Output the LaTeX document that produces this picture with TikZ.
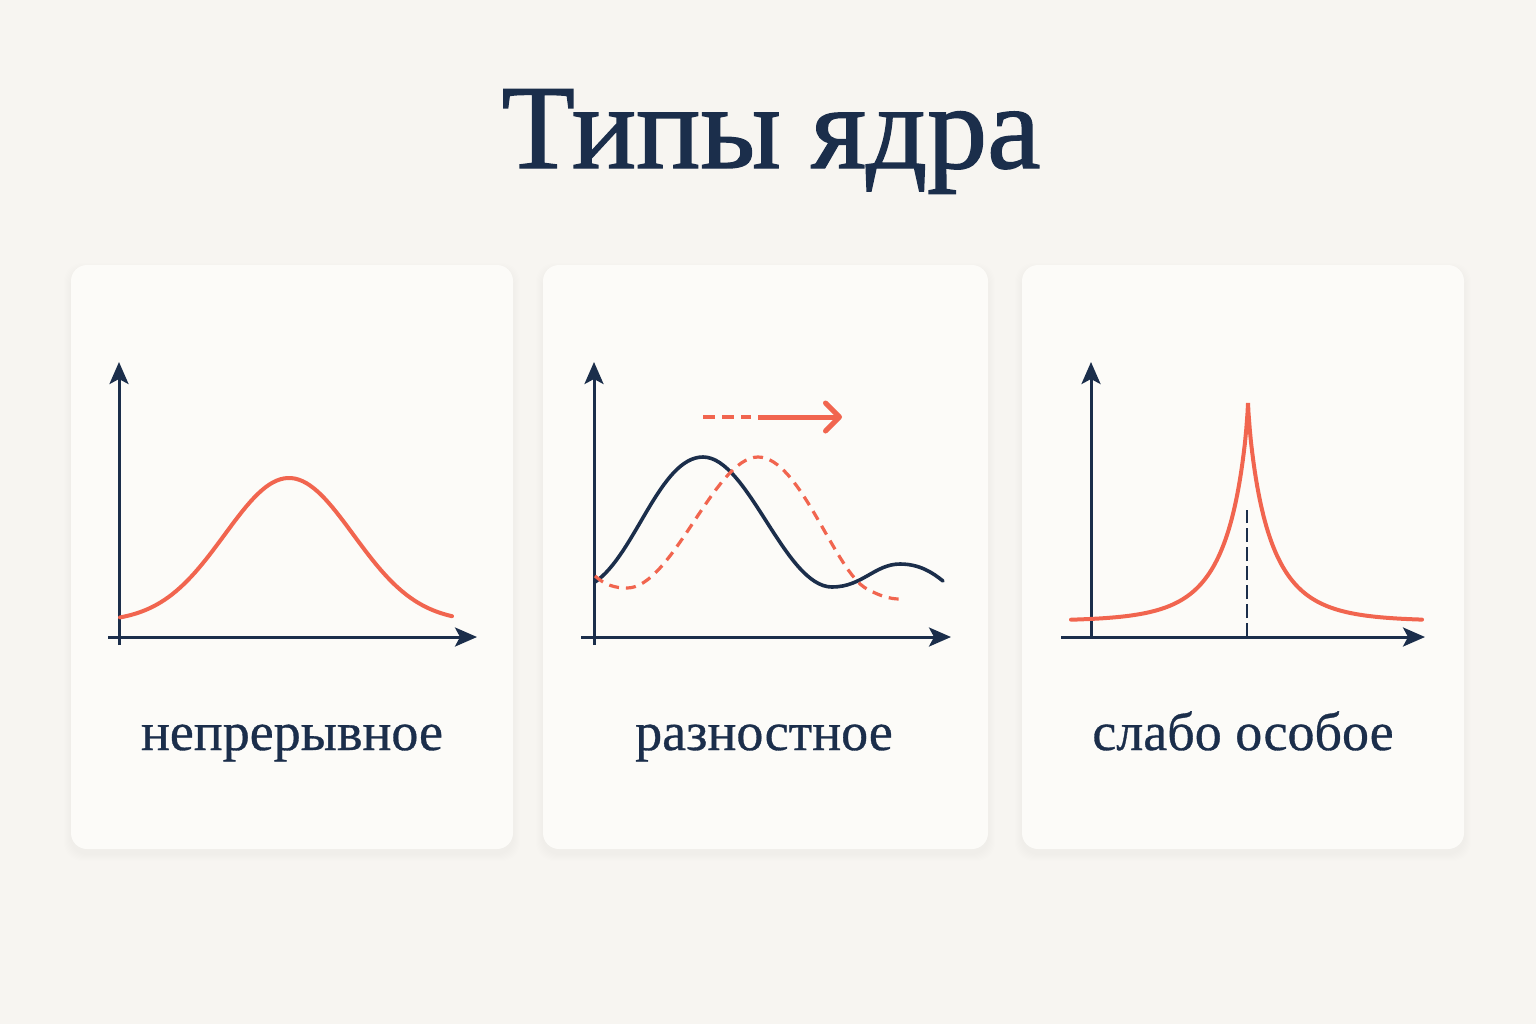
\documentclass[tikz,border=0pt]{standalone}
\usepackage{fontspec}
\setmainfont{Liberation Serif}
\usetikzlibrary{arrows.meta}
\definecolor{bgcolor}{HTML}{F7F5F1}
\definecolor{cardcolor}{HTML}{FCFBF8}
\definecolor{navycolor}{HTML}{1B2E4B}
\definecolor{redcolor}{HTML}{F1654F}
\tikzset{
  card/.style={fill=cardcolor, rounded corners=8pt},
  cardshade/.style={fill=black, opacity=0.005, rounded corners=9pt},
  axisline/.style={navycolor, line width=1.5pt, -{Stealth[length=11pt,width=9.5pt,inset=2.5pt]}},
  redcurve/.style={redcolor, line width=2pt, line cap=round},
  navycurve/.style={navycolor, line width=1.8pt, line cap=round},
  cardlabel/.style={text=navycolor, anchor=base, font=\fontsize{27}{30}\selectfont\addfontfeature{FakeBold=0.6}},
}
\begin{document}
\begin{tikzpicture}[x=0.5pt,y=-0.5pt]
\fill[bgcolor] (0,0) rectangle (1536,1024);
\useasboundingbox (0,0) rectangle (1536,1024);
\foreach \xa/\xb in {71/513, 543/988, 1022/1464}{
  \foreach \s in {1,...,7}
    \fill[cardshade] (\xa-\s,265-\s+5) rectangle (\xb+\s,849+\s+5);
  \fill[card] (\xa,265) rectangle (\xb,849);
}
\node[anchor=base, text=navycolor, font=\fontsize{60}{60}\selectfont\addfontfeature{FakeBold=1.2}] (title) at (771,168) {Типы ядра};
\foreach \ya/\xa/\xb/\yb in {119/108/477/645, 594/581/951/645, 1091/1061/1425/637}{
  \draw[axisline] (\ya,\yb) -- (\ya,362);
  \draw[axisline] (\xa,637) -- (\xb,637);
}
\draw[redcurve] plot[domain=120:452, samples=90] (\x,{622-144*exp(-((\x-289)/91)*((\x-289)/91))});
\draw[navycurve] (595,582) .. controls (635,555) and (660,457) .. (703,457)
  .. controls (748,457) and (785,587) .. (832,587)
  .. controls (862,587) and (875,564) .. (900,564)
  .. controls (920,564) and (933,573) .. (943,581);
\draw[redcolor, line width=1.6pt, dash pattern=on 5pt off 3.5pt] (595,576) .. controls (605,585) and (615,588) .. (627,588)
  .. controls (672,588) and (715,457) .. (758,457)
  .. controls (800,457) and (835,572) .. (867,589)
  .. controls (880,596) and (890,599) .. (900,599);
\draw[redcolor, line width=2.2pt, dash pattern=on 6pt off 3.5pt] (703,417) -- (751,417);
\draw[redcolor, line width=2.5pt, -{Straight Barb[length=7pt,width=14pt,round]}] (758,417) -- (842,417);
\draw[navycolor, line width=1.2pt, dash pattern=on 7pt off 2.5pt] (1247,637) -- (1247,510);
\draw[redcurve] plot[domain=1071:1247.5, samples=140] (\x,{621-218*exp(-((1248-\x)/23)^0.8)})
  -- (1248,403)
  -- plot[domain=1248.5:1422, samples=140] (\x,{621-218*exp(-((\x-1248)/23)^0.8)});
\node[cardlabel] (lblcont) at (292,750) {непрерывное};
\node[cardlabel] (lbldiff) at (764,750) {разностное};
\node[cardlabel] (lblweak) at (1243,750) {слабо особое};
\end{tikzpicture}
\end{document}
